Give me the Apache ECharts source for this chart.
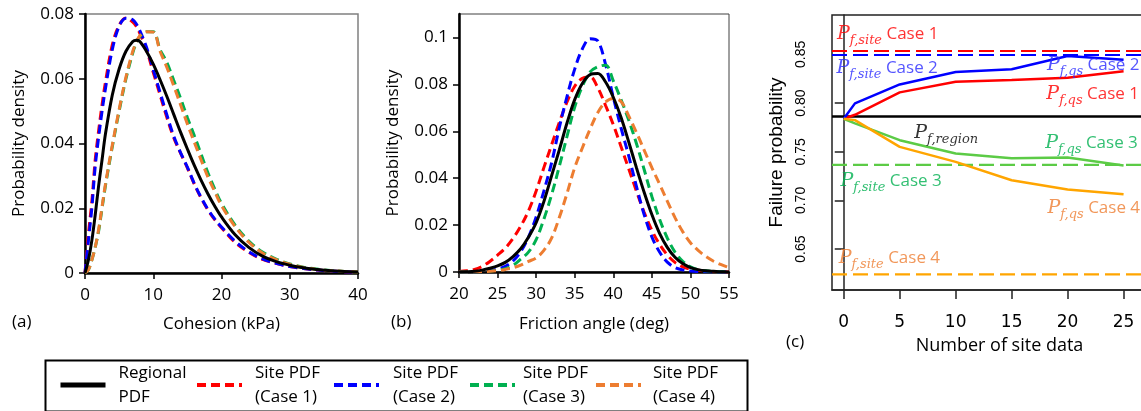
<!DOCTYPE html>
<html>
<head>
<meta charset="utf-8">
<script src="https://cdn.jsdelivr.net/npm/echarts@6/dist/echarts.min.js"></script>
<style>
html, body { margin: 0; padding: 0; background: #fff; }
#chart { width: 1141px; height: 411px; }
</style>
</head>
<body>
<div id="chart"></div>
<script>
// (a) cohesion pdfs
const cohesionX = [0, 0.5, 1, 1.5, 2, 2.5, 3, 4, 5, 6, 7, 7.5, 8, 9, 10, 11, 12, 13, 14, 15, 16, 17, 18, 19, 20, 22, 24, 26, 28, 30, 32, 34, 36, 38, 40];
const cohRegional = [0, 0.004, 0.010, 0.018, 0.027, 0.035, 0.043, 0.055, 0.063, 0.0685, 0.0715, 0.0719, 0.0716, 0.0685, 0.0645, 0.0597, 0.0545, 0.049, 0.0435, 0.0383, 0.0333, 0.0287, 0.0245, 0.0207, 0.0173, 0.0118, 0.0079, 0.0052, 0.0035, 0.0024, 0.0016, 0.0011, 0.0007, 0.0005, 0.0003];
const cohCase1 = [0, 0.012, 0.022, 0.035, 0.044, 0.052, 0.059, 0.0705, 0.0765, 0.0788, 0.0775, 0.0762, 0.0742, 0.069, 0.062, 0.055, 0.048, 0.0418, 0.037, 0.0325, 0.0275, 0.0232, 0.0195, 0.0165, 0.014, 0.0094, 0.0064, 0.0042, 0.003, 0.002, 0.0014, 0.0009, 0.0006, 0.0004, 0.0002];
const cohCase2 = [0, 0.010, 0.020, 0.033, 0.042, 0.050, 0.057, 0.069, 0.0762, 0.0787, 0.0782, 0.077, 0.075, 0.0698, 0.0628, 0.0558, 0.0488, 0.0423, 0.0372, 0.0327, 0.0277, 0.0234, 0.0197, 0.0167, 0.0142, 0.0098, 0.0066, 0.0044, 0.003, 0.002, 0.0014, 0.0009, 0.0006, 0.0004, 0.0002];
const cohCase3 = [0, 0.001, 0.004, 0.008, 0.013, 0.020, 0.027, 0.039, 0.050, 0.060, 0.068, 0.071, 0.073, 0.0745, 0.0745, 0.069, 0.065, 0.0595, 0.054, 0.048, 0.0425, 0.0368, 0.031, 0.026, 0.0215, 0.0148, 0.0099, 0.0065, 0.0043, 0.0028, 0.0018, 0.0012, 0.0008, 0.0005, 0.0003];
const cohCase4 = [0, 0.001, 0.004, 0.008, 0.0135, 0.0205, 0.0275, 0.0395, 0.0505, 0.0605, 0.0685, 0.0712, 0.0732, 0.0745, 0.0744, 0.0685, 0.0635, 0.0578, 0.052, 0.046, 0.0405, 0.035, 0.0297, 0.0252, 0.0208, 0.0143, 0.0095, 0.0062, 0.0041, 0.0027, 0.0017, 0.0011, 0.0007, 0.0005, 0.0003];

// (b) friction angle pdfs
const frictionX = [20, 21, 22, 23, 24, 25, 26, 27, 28, 29, 30, 31, 32, 33, 34, 35, 36, 37, 38, 39, 40, 41, 42, 43, 44, 45, 46, 47, 48, 49, 50, 51, 52, 53, 54, 55];
const friRegional = [0, 0.0001, 0.0003, 0.0008, 0.0016, 0.0026, 0.0041, 0.0066, 0.0099, 0.0148, 0.021, 0.030, 0.041, 0.052, 0.0635, 0.0735, 0.0805, 0.0842, 0.0846, 0.081, 0.0745, 0.066, 0.0555, 0.0445, 0.034, 0.0245, 0.0165, 0.0105, 0.0063, 0.0036, 0.0019, 0.001, 0.0005, 0.0003, 0.0001, 0];
const friCase1 = [0.0002, 0.0005, 0.0011, 0.0024, 0.0045, 0.0072, 0.0102, 0.0143, 0.0195, 0.026, 0.0345, 0.0445, 0.0542, 0.0637, 0.0725, 0.0792, 0.0826, 0.0832, 0.0785, 0.071, 0.0628, 0.0535, 0.044, 0.0345, 0.0255, 0.0178, 0.0118, 0.0073, 0.0041, 0.0022, 0.0012, 0.0007, 0.0004, 0.0002, 0.0001, 0];
const friCase2 = [0, 0, 0.0001, 0.0003, 0.0007, 0.0013, 0.0024, 0.0047, 0.0087, 0.0148, 0.0235, 0.0345, 0.0465, 0.0615, 0.0748, 0.0865, 0.0952, 0.0995, 0.0985, 0.0885, 0.0745, 0.0615, 0.0495, 0.0365, 0.0245, 0.015, 0.0085, 0.0042, 0.0019, 0.0009, 0.0004, 0.0002, 0.0001, 0, 0, 0];
const friCase3 = [0, 0, 0.0001, 0.0002, 0.0004, 0.0008, 0.0014, 0.0028, 0.0055, 0.0085, 0.0138, 0.0225, 0.0329, 0.045, 0.0578, 0.0703, 0.0793, 0.0853, 0.0875, 0.0882, 0.0815, 0.0735, 0.0648, 0.0548, 0.0437, 0.0322, 0.0225, 0.0145, 0.0085, 0.0046, 0.0022, 0.001, 0.0005, 0.0002, 0.0001, 0];
const friCase4 = [0, 0, 0.0001, 0.0002, 0.0003, 0.0006, 0.0011, 0.0018, 0.0029, 0.0045, 0.006, 0.0092, 0.0144, 0.0232, 0.0335, 0.0445, 0.053, 0.061, 0.068, 0.0725, 0.074, 0.0727, 0.0665, 0.0595, 0.052, 0.0445, 0.0375, 0.0302, 0.0232, 0.0172, 0.0125, 0.0092, 0.0066, 0.0046, 0.0031, 0.0019];

// (c) failure probability
const siteCount = [0, 1, 5, 10, 15, 20, 25];
const pfQsCase1 = [0.7839, 0.788, 0.811, 0.8219, 0.8237, 0.826, 0.8326];
const pfQsCase2 = [0.7839, 0.7997, 0.8192, 0.8319, 0.8347, 0.8484, 0.8446];
const pfQsCase3 = [0.7839, 0.7791, 0.7619, 0.7482, 0.7434, 0.7441, 0.7359];
const pfQsCase4 = [0.7839, 0.7825, 0.755, 0.7396, 0.7208, 0.7112, 0.7064];
const pfSite = [0.8535, 0.8494, 0.7365, 0.6241];
const pfRegion = 0.7863;

const pdfNames = ['Regional\nPDF', 'Site PDF\n(Case 1)', 'Site PDF\n(Case 2)', 'Site PDF\n(Case 3)', 'Site PDF\n(Case 4)'];
const caseLabels = ['Case 1', 'Case 2', 'Case 3', 'Case 4'];

// axis extents of panel (c)
const pfX = [-1.05, 27.45];
const pfY = [0.608, 0.8905];

// styles
const pdfColors = ['#000000', '#ff0000', '#0000ff', '#00b050', '#ed7d31'];
const pfLineColors = ['#ff0000', '#0000ff', '#5ccb46', '#ffa500'];
const pfTextColors = ['#ff0000', '#2b2bff', '#00b050', '#ed7d31'];
const legendIconLeft = [58, 195, 332, 468, 594];
const legendTextLeft = [116, 253, 391, 521, 651];

// text anchors for panel (c), in data coordinates
const notes = [
  { at: [-0.6, 0.8707], sub: 'f,site', text: caseLabels[0], color: pfTextColors[0] },
  { at: [-0.65, 0.836], sub: 'f,site', text: caseLabels[1], color: pfTextColors[1] },
  { at: [18.15, 0.839], sub: 'f,qs', text: caseLabels[1], color: pfTextColors[1] },
  { at: [18.1, 0.809], sub: 'f,qs', text: caseLabels[0], color: pfTextColors[0] },
  { at: [6.3, 0.7694], sub: 'f,region', text: '', color: '#000000' },
  { at: [18.0, 0.7588], sub: 'f,qs', text: caseLabels[2], color: pfTextColors[2] },
  { at: [-0.3, 0.7197], sub: 'f,site', text: caseLabels[2], color: pfTextColors[2] },
  { at: [18.2, 0.692], sub: 'f,qs', text: caseLabels[3], color: pfTextColors[3] },
  { at: [-0.45, 0.6405], sub: 'f,site', text: caseLabels[3], color: pfTextColors[3] }
];

const pair = (xs, ys) => xs.map((x, i) => [x, ys[i]]);
const sans = 'Open Sans';

function pdfSeries(name, xs, ys, i, axisIndex) {
  return {
    name: name,
    type: 'line',
    xAxisIndex: axisIndex,
    yAxisIndex: axisIndex,
    data: pair(xs, ys),
    smooth: 0.35,
    symbol: 'none',
    z: i === 0 ? 5 : 3,
    lineStyle: {
      color: pdfColors[i],
      width: 3,
      type: i === 0 ? 'solid' : [9, 5]
    },
    itemStyle: { color: pdfColors[i] }
  };
}

function levelSeries(name, value, color, type, width) {
  return {
    name: name,
    type: 'line',
    xAxisIndex: 2,
    yAxisIndex: 2,
    data: pfX.map(x => [x, value]),
    symbol: 'none',
    silent: true,
    z: 3,
    lineStyle: { color: color, type: type, width: width }
  };
}

const cohSets = [cohRegional, cohCase1, cohCase2, cohCase3, cohCase4];
const friSets = [friRegional, friCase1, friCase2, friCase3, friCase4];
const qsSets = [pfQsCase1, pfQsCase2, pfQsCase3, pfQsCase4];

const series = [];
// dashed ones first, regional on top
[1, 2, 3, 4, 0].forEach(i => series.push(pdfSeries(pdfNames[i], cohesionX, cohSets[i], i, 0)));
[1, 2, 3, 4, 0].forEach(i => series.push(pdfSeries(pdfNames[i], frictionX, friSets[i], i, 1)));

series.push(levelSeries('region', pfRegion, '#000', 'solid', 2.5));
[1, 0, 2, 3].forEach(i => series.push(levelSeries('site' + (i + 1), pfSite[i], pfLineColors[i], [15, 6], 2.2)));

qsSets.forEach((ys, i) => {
  series.push({
    name: 'qs' + (i + 1),
    type: 'line',
    xAxisIndex: 2,
    yAxisIndex: 2,
    data: pair(siteCount, ys),
    symbol: 'none',
    silent: true,
    lineStyle: { color: pfLineColors[i], width: 2.5 },
    z: 4
  });
});

series.push({
  name: 'notes',
  type: 'scatter',
  xAxisIndex: 2,
  yAxisIndex: 2,
  symbolSize: 0,
  silent: true,
  z: 6,
  data: notes.map(n => ({
    value: n.at,
    label: {
      show: true,
      position: [0, 0],
      align: 'left',
      verticalAlign: 'middle',
      formatter: '{p|P}{s|' + n.sub + '}' + (n.text ? '{c| ' + n.text + '}' : ''),
      rich: {
        p: { fontFamily: 'DejaVu Serif', fontStyle: 'italic', fontSize: 19, lineHeight: 26, color: n.color },
        s: { fontFamily: 'DejaVu Serif', fontStyle: 'italic', fontSize: 13, lineHeight: 16, verticalAlign: 'bottom', color: n.color },
        c: { fontFamily: sans, fontSize: 17, lineHeight: 26, color: n.color }
      }
    }
  }))
});

const tickFont = { fontFamily: sans, fontSize: 17, color: '#000' };
const nameFont = { fontFamily: sans, fontSize: 17, color: '#000' };

const option = {
  animation: false,
  backgroundColor: '#fff',
  grid: [
    { left: 85, top: 14, width: 273, height: 259, show: true, borderColor: '#808080', borderWidth: 1.5, outerBoundsMode: 'none' },
    { left: 459, top: 14, width: 270, height: 258, show: true, borderColor: '#404040', borderWidth: 1, outerBoundsMode: 'none' },
    { left: 832, top: 15, width: 319, height: 275, show: true, borderColor: '#222', borderWidth: 1.5, outerBoundsMode: 'none' }
  ],
  xAxis: [
    {
      gridIndex: 0, type: 'value', min: 0, max: 40, interval: 10,
      name: 'Cohesion (kPa)', nameLocation: 'middle', nameGap: 43, nameTextStyle: nameFont,
      axisLine: { lineStyle: { color: '#000', width: 2.5 } },
      axisTick: { show: true, inside: false, length: 6, lineStyle: { color: '#000', width: 1.5 } },
      axisLabel: Object.assign({ margin: 14 }, tickFont),
      splitLine: { show: false }
    },
    {
      gridIndex: 1, type: 'value', min: 20, max: 55, interval: 5,
      name: 'Friction angle (deg)', nameLocation: 'middle', nameGap: 44, nameTextStyle: nameFont,
      axisLine: { lineStyle: { color: '#000', width: 2.5 } },
      axisTick: { show: true, inside: false, length: 6, lineStyle: { color: '#000', width: 1.5 } },
      axisLabel: Object.assign({ margin: 14 }, tickFont),
      splitLine: { show: false }
    },
    {
      gridIndex: 2, type: 'value', min: pfX[0], max: pfX[1], splitNumber: 6,
      name: 'Number of site data', nameLocation: 'middle', nameGap: 47,
      nameTextStyle: { fontFamily: sans, fontSize: 18, color: '#000', padding: [0, 0, 0, 16] },
      axisLine: { lineStyle: { color: '#222', width: 1.5 } },
      axisTick: { show: true, inside: false, length: 9, lineStyle: { color: '#222', width: 1.5 } },
      axisLabel: { margin: 24, fontFamily: 'DejaVu Sans', fontSize: 17, color: '#000', showMinLabel: false, showMaxLabel: false },
      splitLine: { show: false }
    }
  ],
  yAxis: [
    {
      gridIndex: 0, type: 'value', min: 0, max: 0.08, interval: 0.02,
      name: 'Probability density', nameLocation: 'middle', nameGap: 57, nameTextStyle: nameFont,
      axisLine: { show: true, lineStyle: { color: '#000', width: 2.5 } },
      axisTick: { show: true, inside: false, length: 6, lineStyle: { color: '#000', width: 1.5 } },
      axisLabel: Object.assign({ margin: 11 }, tickFont),
      splitLine: { show: false }
    },
    {
      gridIndex: 1, type: 'value', min: 0, max: 0.11, interval: 0.02,
      name: 'Probability density', nameLocation: 'middle', nameGap: 57, nameTextStyle: nameFont,
      axisLine: { show: true, lineStyle: { color: '#000', width: 2.5 } },
      axisTick: { show: true, inside: false, length: 6, lineStyle: { color: '#000', width: 1.5 } },
      axisLabel: Object.assign({ margin: 11, showMaxLabel: false }, tickFont),
      splitLine: { show: false }
    },
    {
      gridIndex: 2, type: 'value', min: pfY[0], max: pfY[1], splitNumber: 5,
      name: 'Failure probability', nameLocation: 'middle', nameGap: 46,
      nameTextStyle: { fontFamily: 'Liberation Sans', fontSize: 19, color: '#000' },
      axisLine: { show: true, lineStyle: { color: '#222', width: 1.5 } },
      axisTick: { show: true, inside: false, length: 9, lineStyle: { color: '#222', width: 1.5 } },
      axisLabel: {
        margin: 24, rotate: 90, fontFamily: 'Liberation Sans', fontSize: 14, color: '#000',
        showMinLabel: false, showMaxLabel: false,
        formatter: v => v.toFixed(2)
      },
      splitLine: { show: false }
    }
  ],
  legend: pdfNames.map((name, i) => ({
    data: [name],
    left: legendIconLeft[i],
    top: 361,
    padding: 0,
    itemWidth: 45,
    itemHeight: 14,
    selectedMode: false,
    lineStyle: { width: i === 0 ? 5 : 4 },
    itemStyle: { opacity: 0 },
    textStyle: {
      fontFamily: sans, fontSize: 17, lineHeight: 24, color: '#000',
      padding: [0, 0, 0, legendTextLeft[i] - legendIconLeft[i] - 50]
    }
  })),
  graphic: [
    { type: 'rect', left: 43, top: 358, shape: { width: 702, height: 51 }, style: { fill: 'none', stroke: '#000', lineWidth: 2 }, silent: true },
    { type: 'text', left: 12, top: 314, style: { text: '(a)', font: '17px "Open Sans"', fill: '#000' } },
    { type: 'text', left: 391, top: 314, style: { text: '(b)', font: '17px "Open Sans"', fill: '#000' } },
    { type: 'text', left: 786, top: 334, style: { text: '(c)', font: '17px "Open Sans"', fill: '#000' } }
  ],
  series: series
};

const chart = echarts.init(document.getElementById('chart'), null, { renderer: 'canvas' });
chart.setOption(option);
</script>
</body>
</html>
